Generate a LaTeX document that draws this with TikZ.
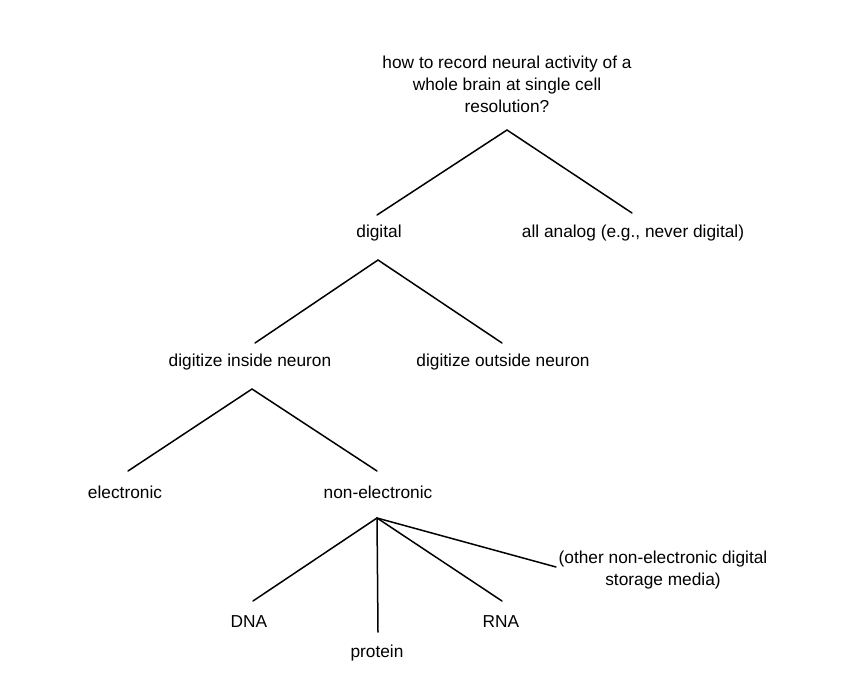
\documentclass[tikz,border=0pt]{standalone}
\usepackage{fontspec}
\setmainfont{Liberation Sans}
\begin{document}
\begin{tikzpicture}[x=1pt,y=-1pt,
  lbl/.style={font=\fontsize{17.3}{22}\selectfont, inner sep=0pt, align=center, anchor=center},
  edge/.style={line width=1.5pt, line cap=round}]
\useasboundingbox[fill=white] (0,0) rectangle (848,686);
% nodes
\node[lbl] (q) at (507,84) {how to record neural activity of a\\whole brain at single cell\\resolution?};
\node[lbl] (dig) at (379,233) {digital};
\node[lbl] (ana) at (633,233) {all analog (e.g., never digital)};
\node[lbl] (ins) at (250,362) {digitize inside neuron};
\node[lbl] (out) at (503,362) {digitize outside neuron};
\node[lbl] (ele) at (125,492) {electronic};
\node[lbl] (non) at (378,492) {non-electronic};
\node[lbl] (oth) at (663,570) {(other non-electronic digital\\storage media)};
\node[lbl] (dna) at (249,622) {DNA};
\node[lbl] (pro) at (377,653) {protein};
\node[lbl] (rna) at (501,622) {RNA};
% connector end points
\coordinate (qa) at (507,130);
\coordinate (qd) at (377,215);
\coordinate (qn) at (632,213);
\coordinate (da) at (378,260);
\coordinate (di) at (255,343);
\coordinate (do) at (502,343);
\coordinate (ia) at (252,389);
\coordinate (ie) at (128,471);
\coordinate (in) at (377,471);
\coordinate (na) at (377,518);
\coordinate (nd) at (253,601);
\coordinate (np) at (378,632);
\coordinate (nr) at (502,601);
\coordinate (no) at (556,567);
% connectors
\draw[edge] (qd) -- (qa) -- (qn);
\draw[edge] (di) -- (da) -- (do);
\draw[edge] (ie) -- (ia) -- (in);
\draw[edge] (na) -- (nd);
\draw[edge] (na) -- (np);
\draw[edge] (na) -- (nr);
\draw[edge] (na) -- (no);
\end{tikzpicture}
\end{document}
